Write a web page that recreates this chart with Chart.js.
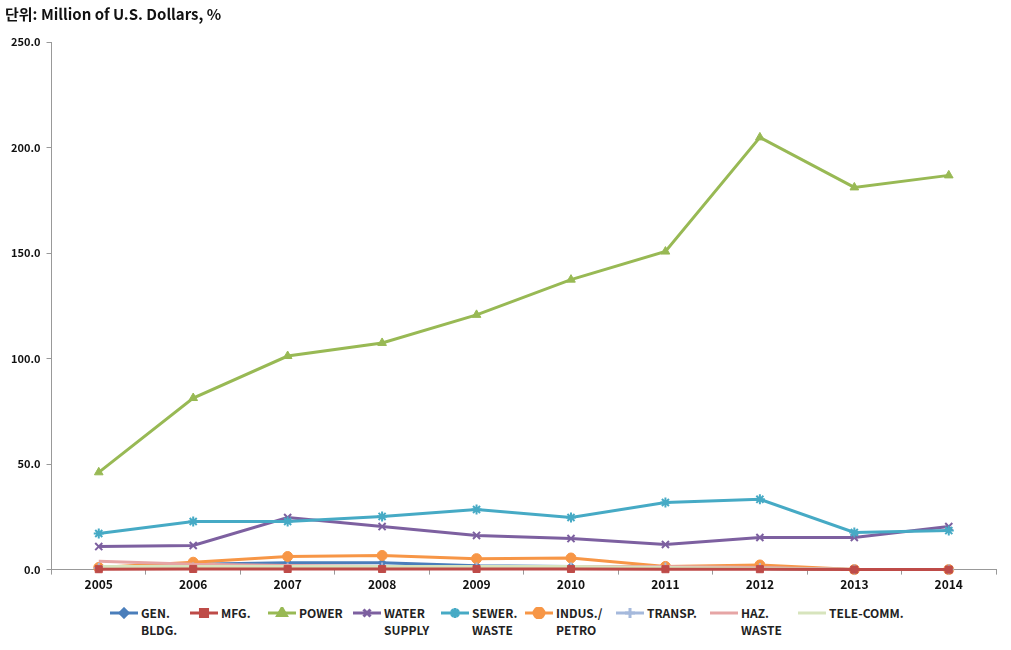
<!DOCTYPE html>
<html>
<head>
<meta charset="utf-8">
<script src="https://cdn.jsdelivr.net/npm/chart.js@4/dist/chart.umd.min.js"></script>
<style>
  body { margin: 0; background: #fff; font-family: "Noto Sans CJK KR", "Noto Sans", sans-serif; }
  #wrap { position: relative; width: 1011px; height: 650px; }
  #chart-box { position: absolute; left: 0; top: 0; width: 1011px; height: 600px; }
  #legend { position: absolute; left: 0; top: 604px; width: 1011px; height: 46px; }
  .item { position: absolute; top: 0; display: flex; align-items: flex-start; font-size: 12px; font-weight: bold; color: #222; line-height: 17px; }
  .item canvas { margin-top: 3px; margin-right: 3px; }
</style>
</head>
<body>
<div id="wrap">
  <div id="chart-box"><canvas id="line-chart"></canvas></div>
  <div id="legend"></div>
</div>
<script>
// dados
var years = ['2005', '2006', '2007', '2008', '2009', '2010', '2011', '2012', '2013', '2014'];
var genBldg = [1.0, 2.5, 3.2, 3.3, 1.8, 1.5, 1.0, 0.5, 0, 0];
var mfg = [0.2, 0.3, 0.3, 0.3, 0.3, 0.3, 0.2, 0.2, 0, 0];
var power = [46.1, 81.3, 101.2, 107.4, 120.7, 137.4, 150.7, 204.8, 181.1, 186.8];
var waterSupply = [10.9, 11.4, 24.7, 20.4, 16.2, 14.7, 11.9, 15.2, 15.2, 20.4];
var sewerWaste = [17.1, 22.8, 22.8, 25.2, 28.5, 24.7, 31.8, 33.3, 17.6, 18.5];
var indusPetro = [1.0, 3.5, 6.2, 6.7, 5.2, 5.5, 1.5, 2.2, 0, 0];
var transp = [0.8, 1.0, 1.0, 1.0, 1.0, 1.0, 1.0, 0.8, 0, 0];
var hazWaste = [4.0, 2.5, 2.0, 1.5, 1.5, 1.5, 1.5, 1.0, 0, 0];
var teleComm = [1.5, 1.5, 1.5, 1.5, 1.5, 1.5, 1.0, 0.5, 0, 0];
var seriesNames = [['GEN.', 'BLDG.'], ['MFG.'], ['POWER'], ['WATER', 'SUPPLY'], ['SEWER.', 'WASTE'], ['INDUS./', 'PETRO'], ['TRANSP.'], ['HAZ.', 'WASTE'], ['TELE-COMM.']];
var seriesValues = [genBldg, mfg, power, waterSupply, sewerWaste, indusPetro, transp, hazWaste, teleComm];

var colors = ['#4a7ebb', '#be4b48', '#98b954', '#7d60a0', '#46aac5', '#f79646', '#a5b9dc', '#e6a5a5', '#d7e4bd'];
var markers = ['rectRot', 'rect', 'triangle', 'crossRot', 'star', 'circle', 'cross', false, false];
var markerSize = [4, 5, 5, 5, 5, 5, 5, 0, 0];
var drawOrder = [8, -1, 6, 5, 4, 3, 2, 1, 0];
var legendLeft = [110, 190, 268, 353, 441, 525, 616, 710, 798];

var datasets = seriesValues.map(function (vals, i) {
    return {
        label: seriesNames[i].join(' '),
        data: vals,
        borderColor: colors[i],
        backgroundColor: colors[i],
        borderWidth: 3,
        pointStyle: markers[i],
        pointRadius: markerSize[i],
        pointBorderWidth: (markers[i] === 'crossRot' || markers[i] === 'star' || markers[i] === 'cross') ? 2 : 1,
        pointBorderColor: colors[i],
        tension: 0,
        clip: false,
        order: drawOrder[i]
    };
});

var ctx = document.getElementById('line-chart');

var chart = new Chart(ctx, {
    type: 'line',
    data: { labels: years, datasets: datasets },
    options: {
        responsive: true,
        maintainAspectRatio: false,
        animation: false,
        layout: { padding: { left: 5, right: 15, top: 0, bottom: 5 } },
        plugins: {
            legend: { display: false },
            tooltip: { enabled: false },
            title: {
                display: true,
                text: '단위: Million of U.S. Dollars, %',
                align: 'start',
                color: '#111',
                font: { family: '"Noto Sans CJK KR"', size: 15, weight: 'bold' },
                padding: { top: 5, bottom: 19 }
            }
        },
        scales: {
            x: {
                offset: true,
                grid: { display: true, drawOnChartArea: false, drawTicks: true, tickLength: 5, offset: true, color: '#999' },
                border: { color: '#999' },
                ticks: { color: '#111', font: { family: '"Noto Sans CJK KR"', size: 12, weight: 'bold' }, padding: 3 }
            },
            y: {
                min: 0,
                max: 250,
                grid: { display: true, drawOnChartArea: false, drawTicks: true, tickLength: 5, color: '#999' },
                border: { color: '#999' },
                ticks: {
                    stepSize: 50,
                    color: '#111',
                    font: { family: '"Noto Sans CJK KR"', size: 11, weight: 'bold' },
                    padding: 6,
                    callback: function (v) { return v.toFixed(1); }
                }
            }
        }
    }
});

// legenda em HTML (rótulos de duas linhas)
var legend = document.getElementById('legend');
seriesNames.forEach(function (name, i) {
    var item = document.createElement('div');
    item.className = 'item';
    item.style.left = legendLeft[i] + 'px';
    var c = document.createElement('canvas');
    c.width = 28; c.height = 12;
    c.style.width = '28px'; c.style.height = '12px';
    var g = c.getContext('2d');
    g.strokeStyle = colors[i];
    g.lineWidth = 3;
    g.beginPath(); g.moveTo(0, 6); g.lineTo(28, 6); g.stroke();
    if (markers[i]) {
        Chart.helpers.drawPoint(g, {
            pointStyle: markers[i], radius: markerSize[i], borderWidth: 2
        }, 14, 6);
        g.fillStyle = colors[i];
        g.fill();
    }
    item.appendChild(c);
    var t = document.createElement('div');
    t.innerHTML = name.join('<br>');
    item.appendChild(t);
    legend.appendChild(item);
});
</script>
</body>
</html>
